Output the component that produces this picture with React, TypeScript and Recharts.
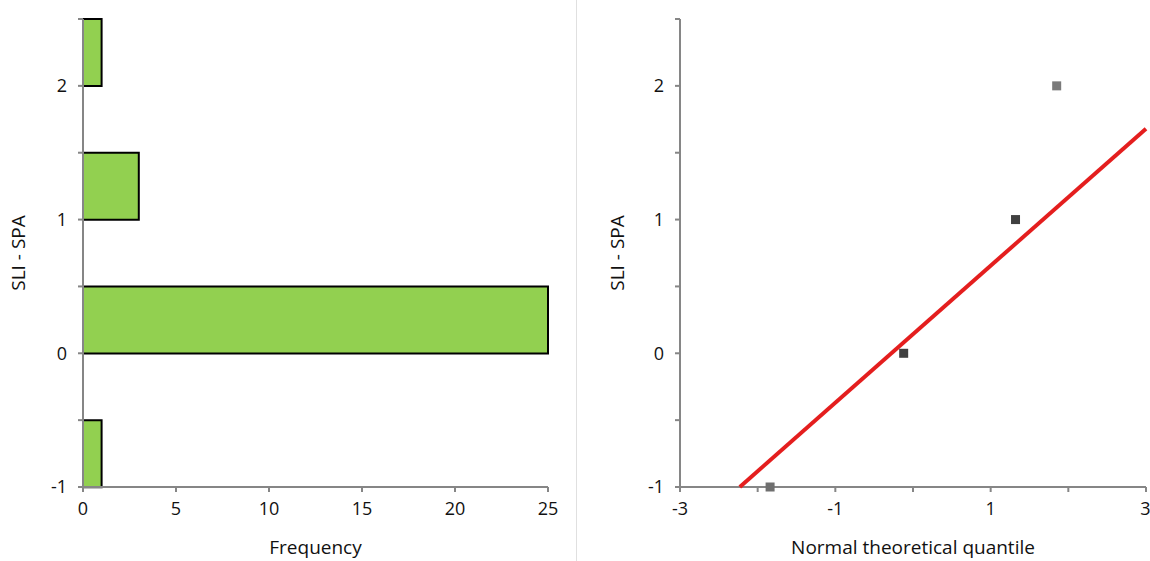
import React from 'react'
import {
  BarChart,
  Bar,
  ScatterChart,
  Scatter,
  XAxis,
  YAxis,
  Cell
} from 'recharts'

// histogram bins (centre of each 0.5 wide bin) and counts
const binCentres = [-0.75, -0.25, 0.25, 0.75, 1.25, 1.75, 2.25]
const frequencies = [1, 0, 25, 0, 3, 0, 1]

// Q-Q plot points
const quantiles = [-1.84, -0.12, 1.32, 1.85]
const observed = [-1, 0, 1, 2]
const pointColors = ['#6f6f6f', '#404040', '#404040', '#7a7a7a']

// fitted reference line endpoints
const lineX = [-2.23, 3]
const lineY = [-1, 1.68]

const yTicks = [-1, -0.5, 0, 0.5, 1, 1.5, 2, 2.5]
const freqTicks = [0, 5, 10, 15, 20, 25]
const qTicks = [-3, -2, -1, 0, 1, 2, 3]

const histData = binCentres.map((mid, i) => ({ mid, freq: frequencies[i] }))
const qqData = quantiles.map((x, i) => ({ x, y: observed[i] }))
const lineData = lineX.map((x, i) => ({ x, y: lineY[i] }))

const FONT = "'Open Sans', sans-serif"
const AXIS = '#868686'
const tickStyle = { fontSize: 18, fill: '#111', fontFamily: FONT }
const labelStyle = { fontSize: 19, fill: '#111', fontFamily: FONT }

const intOnly = (v: number) => (Number.isInteger(v) ? String(v) : '')
const oddOnly = (v: number) => (Math.abs(v) % 2 === 1 ? String(v) : '')

const Square = (props: any) => {
  const { cx, cy, fill } = props
  return <rect x={cx - 4.5} y={cy - 4.5} width={9} height={9} fill={fill} />
}

const App: React.FC = () => {
  return (
    <div
      style={{
        position: 'absolute',
        left: 0,
        top: 0,
        width: 1150,
        height: 561,
        background: '#fff',
        fontFamily: FONT
      }}
    >
      <div style={{ position: 'absolute', left: 0, top: 0 }}>
        <BarChart
          width={570}
          height={561}
          data={histData}
          layout="vertical"
          barCategoryGap={0}
          margin={{ top: 19, right: 22, left: 43, bottom: 4 }}
        >
          <XAxis
            type="number"
            dataKey="freq"
            domain={[0, 25]}
            ticks={freqTicks}
            height={70}
            stroke={AXIS}
            strokeWidth={2}
            tickSize={5}
            tickMargin={10}
            tick={tickStyle}
            label={{ value: 'Frequency', position: 'insideBottom', offset: 3, style: labelStyle }}
          />
          <YAxis
            type="number"
            dataKey="mid"
            domain={[-1, 2.5]}
            ticks={yTicks}
            reversed
            width={40}
            stroke={AXIS}
            strokeWidth={2}
            tickSize={5}
            tickMargin={11}
            tickFormatter={intOnly}
            tick={tickStyle}
            label={{ value: 'SLI - SPA', angle: -90, position: 'insideLeft', offset: -25, style: { ...labelStyle, textAnchor: 'middle' } }}
          />
          <Bar dataKey="freq" fill="#92D050" stroke="#000" strokeWidth={2} isAnimationActive={false} />
        </BarChart>
      </div>

      <div style={{ position: 'absolute', left: 576, top: 0, width: 1, height: 561, background: '#e0e0e0' }} />

      <div style={{ position: 'absolute', left: 580, top: 0 }}>
        <ScatterChart
          width={570}
          height={561}
          margin={{ top: 19, right: 4, left: 60, bottom: 4 }}
          style={{ overflow: 'visible' }}
        >
          <XAxis
            type="number"
            dataKey="x"
            domain={[-3, 3]}
            ticks={qTicks}
            height={70}
            stroke={AXIS}
            strokeWidth={2}
            tickSize={5}
            tickMargin={10}
            tickFormatter={oddOnly}
            tick={tickStyle}
            label={{ value: 'Normal theoretical quantile', position: 'insideBottom', offset: 3, style: labelStyle }}
          />
          <YAxis
            type="number"
            dataKey="y"
            domain={[-1, 2.5]}
            ticks={yTicks}
            width={40}
            stroke={AXIS}
            strokeWidth={2}
            tickSize={5}
            tickMargin={11}
            tickFormatter={intOnly}
            tick={tickStyle}
            label={{ value: 'SLI - SPA', angle: -90, position: 'insideLeft', offset: -23, style: { ...labelStyle, textAnchor: 'middle' } }}
          />
          <Scatter
            data={lineData}
            line={{ stroke: '#e41e1e', strokeWidth: 4 }}
            shape={() => null}
            isAnimationActive={false}
          />
          <Scatter data={qqData} shape={<Square />} isAnimationActive={false}>
            {qqData.map((_, i) => (
              <Cell key={i} fill={pointColors[i]} />
            ))}
          </Scatter>
        </ScatterChart>
      </div>
    </div>
  )
}

export default App
